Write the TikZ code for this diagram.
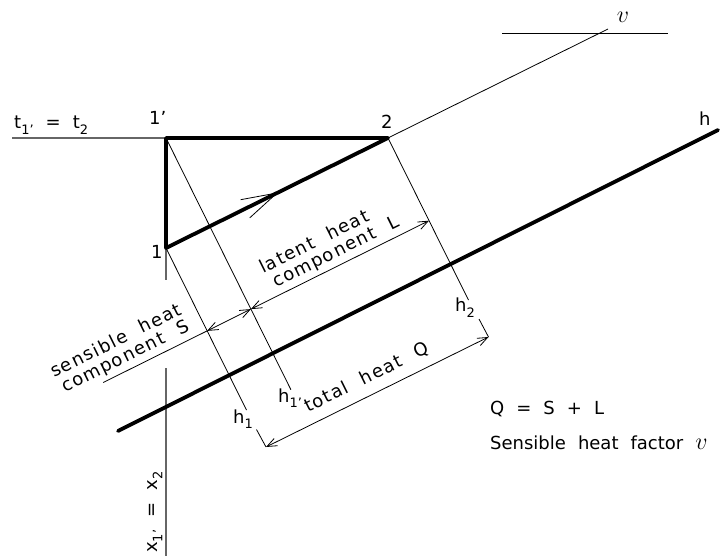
\RequirePackage{fix-cm}
\documentclass[tikz,border=0pt]{standalone}
\usepackage{fontspec}
\setmainfont{DejaVu Sans}[WordSpace=2.1]
\newfontfamily\rotfamily{DejaVu Sans}[LetterSpace=8,WordSpace=2.1]
\usetikzlibrary{arrows.meta,calc}
\newcommand\fsmain{\fontsize{18}{19}\selectfont}
\newcommand\fsrot{\rotfamily\fontsize{18}{19}\selectfont}
\newcommand\sbx[1]{\raisebox{-0.3em}{\fontsize{13}{13}\selectfont #1}}
\newcommand\bigv{{\fontsize{24}{24}\selectfont$v$}}
\tikzset{
  thinline/.style={line width=0.8pt,black},
  grayline/.style={line width=1.2pt,black!60},
  thickline/.style={line width=3.8pt,black,line cap=round,line join=round},
  dimarrow/.style={line width=0.8pt,black,{Straight Barb[length=10pt,width=8pt]}-{Straight Barb[length=10pt,width=8pt]}},
  lbl/.style={inner sep=0pt,anchor=base west,font=\fsmain},
  rlbl/.style={lbl,rotate=26.4,font=\fsrot},
}
\begin{document}
\begin{tikzpicture}[x=1pt,y=-1pt]
\useasboundingbox (0,0) rectangle (726,556);
% key points
\coordinate (P1p) at (166,138);
\coordinate (P2) at (388,138);
\coordinate (P1) at (166,248);
\coordinate (tL) at (12,138);
\coordinate (h1pEnd) at (290.9,389.7);
\coordinate (A) at (250.9,309.1);
\coordinate (h1End) at (246.5,410.1);
\coordinate (B) at (207.1,330.9);
\coordinate (C) at (103.2,382.5);
\coordinate (h2End) at (468.5,300.1);
\coordinate (D) at (429.0,220.7);
\coordinate (E0) at (256.5,429.5);
\coordinate (E) at (266,447);
\coordinate (F0) at (479,319);
\coordinate (F) at (488.5,337);
\coordinate (hS) at (118,431);
\coordinate (hE) at (718,130);
\coordinate (ext) at (608,29);
\coordinate (vS) at (502,33);
\coordinate (vE) at (668,33);
\coordinate (xa) at (166,280);
\coordinate (xb) at (166,368);
\coordinate (xc) at (166,556);
\coordinate (tip) at (277,193);
% gray reference lines
\draw[grayline] (tL) -- (P1p);
\draw[grayline] (P1) -- (xa);
\draw[grayline] (xb) -- (xc);
% thin lines
\draw[thinline] (P1p) -- (h1pEnd);
\draw[thinline] (P1) -- (h1End);
\draw[thinline] (P2) -- (h2End);
\draw[thinline] (E0) -- (E);
\draw[thinline] (F0) -- (F);
\draw[thinline] (P2) -- (ext);
\draw[thinline] (vS) -- (vE);
% thick process lines
\draw[thickline] (P2) -- (P1p) -- (P1) -- cycle;
\draw[thickline] (hS) -- (hE);
% direction arrow on 1-2
\draw[thinline] ($(tip)+(-36.4,6.7)$) -- (tip) -- ($(tip)+(-27.3,24.9)$);
% dimension lines
\draw[thinline] (C) -- (B);
\draw[dimarrow] (B) -- (A);
\draw[dimarrow] (A) -- (D);
\draw[dimarrow] (E) -- (F);
% labels
\node[lbl] (lt) at (14,129) {t\sbx{1’} =  t\sbx{2}};
\node[lbl] (l1p) at (149,125) {1’};
\node[lbl] (l2) at (381,129) {2};
\node[lbl] (l1) at (151,259) {1};
\node[lbl] (lh) at (699,126) {h};
\node[inner sep=0pt] (lv) at (623,17) {\bigv};
\node[lbl] (lh1) at (233,423) {h\sbx{1}};
\node[lbl] (lh1p) at (278,402) {h\sbx{1’}};
\node[lbl] (lh2) at (455,312) {h\sbx{2}};
\node[lbl] (lq) at (490,414) {Q = S + L};
\node[lbl] (lshf) at (490,449) {Sensible heat factor \bigv};
\node[rlbl] (lat1) at (263,274) {latent heat};
\node[rlbl] (lat2) at (276,288) {component L};
\node[rlbl] (sen1) at (54,378) {sensible heat};
\node[rlbl] (sen2) at (65,393) {component S};
\node[rlbl] (tot) at (308,413) {total heat Q};
\node[lbl,rotate=90] (lx) at (157,553) {x\sbx{1’} =  x\sbx{2}};
\end{tikzpicture}
\end{document}
